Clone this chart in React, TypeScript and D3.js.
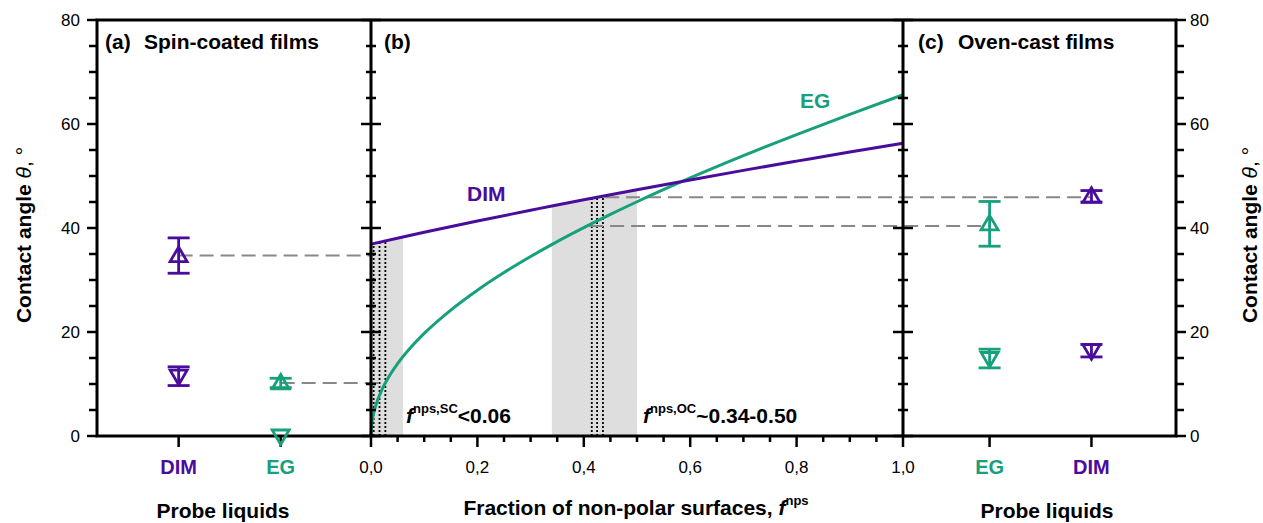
import React from 'react';
import * as d3 from 'd3';

const W = 1263;
const H = 523;
const PURPLE = '#4a0c9c';
const GREEN = '#16a07b';
const FONT = '"Liberation Sans", Arial, sans-serif';

// ---- data ----
const dimCurveF = [0, 0.06, 0.1, 0.2, 0.3, 0.34, 0.4, 0.5, 0.6, 0.7, 0.8, 0.9, 1.0];
const dimCurveTheta = [36.9, 38.28, 39.18, 41.35, 43.41, 44.24, 45.43, 47.37, 49.25, 51.08, 52.86, 54.62, 56.3];
const egCurveF = [0, 0.001, 0.0025, 0.005, 0.01, 0.02, 0.03, 0.05, 0.075, 0.1, 0.15, 0.2, 0.25, 0.3, 0.35, 0.4, 0.45, 0.5, 0.6, 0.7, 0.8, 0.9, 1.0];
const egCurveTheta = [0, 1.96, 3.1, 4.39, 6.21, 8.78, 10.77, 13.92, 17.06, 19.73, 24.22, 28.04, 31.43, 34.52, 37.39, 40.07, 42.62, 45.05, 49.62, 53.91, 57.97, 61.86, 65.62];

const spinLiquids = ['DIM', 'EG'];
const spinColors = [PURPLE, GREEN];
const spinAdv = [34.7, 10.2];
const spinAdvErr = [3.4, 0.9];
const spinRec = [11.5, 0];
const spinRecErr = [1.8, 0];

const ovenLiquids = ['EG', 'DIM'];
const ovenColors = [GREEN, PURPLE];
const ovenAdv = [40.8, 46.1];
const ovenAdvErr = [4.3, 1.1];
const ovenRec = [14.9, 16.4];
const ovenRecErr = [1.8, 1.2];

const bandStart = [0, 0.34];
const bandEnd = [0.06, 0.5];
const dottedF = [0.005, 0.016, 0.027, 0.415, 0.425, 0.436];

// dashed connectors
const spinLinkTheta = [34.7, 10.2];
const spinLinkF = [0, 0.02];
const ovenLinkTheta = [40.4, 45.9];
const ovenLinkF = [0.41, 0.44];

const yTickLabels = [0, 20, 40, 60, 80];
const fTickValues = [0, 0.2, 0.4, 0.6, 0.8, 1.0];
const fTickLabels = ['0,0', '0,2', '0,4', '0,6', '0,8', '1,0'];

// ---- layout ----
const X0 = 97;
const XA = 371;
const XB = 903;
const X1 = 1176;
const YT = 20;
const YB = 436;

const y = d3.scaleLinear().domain([0, 80]).range([YB, YT]);
const xf = d3.scaleLinear().domain([0, 1]).range([XA, XB]);
const xLeft = d3.scaleLinear().domain([0.2, 2.885]).range([X0, XA]);
const xRight = d3.scaleLinear().domain([0.15, 2.83]).range([XB, X1]);

const dimPts: [number, number][] = dimCurveF.map((f, i) => [f, dimCurveTheta[i]]);
const egPts: [number, number][] = egCurveF.map((f, i) => [f, egCurveTheta[i]]);

const line = d3
  .line<[number, number]>()
  .x((d) => xf(d[0]))
  .y((d) => y(d[1]))
  .curve(d3.curveMonotoneX);

const areaUnder = d3
  .area<[number, number]>()
  .x((d) => xf(d[0]))
  .y0(y(0))
  .y1((d) => y(d[1]))
  .curve(d3.curveMonotoneX);

const upTri = 'M0,-8.5 L8.5,6 L-8.5,6 Z';
const downTri = 'M0,8.5 L8.5,-6 L-8.5,-6 Z';

function Marker({ cx, v, err, up, color }: { cx: number; v: number; err: number; up: boolean; color: string }) {
  const cy = y(v);
  return (
    <g stroke={color} strokeWidth={2.8} fill="none">
      {err > 0 && (
        <>
          <line x1={cx} x2={cx} y1={y(v - err)} y2={y(v + err)} />
          <line x1={cx - 11} x2={cx + 11} y1={y(v - err)} y2={y(v - err)} />
          <line x1={cx - 11} x2={cx + 11} y1={y(v + err)} y2={y(v + err)} />
        </>
      )}
      <path d={up ? upTri : downTri} transform={`translate(${cx},${cy})`} strokeLinejoin="miter" />
    </g>
  );
}

export default function App() {
  const minor = d3.range(0, 81, 5);
  const fMinor = d3.range(0, 1.0001, 0.05);
  return (
    <svg
      width={W}
      height={H}
      style={{ position: 'absolute', left: 0, top: 0, background: '#fff' }}
      fontFamily={FONT}
    >
      <defs>
        <clipPath id="underDim">
          <path d={areaUnder(dimPts) || ''} />
        </clipPath>
      </defs>

      {/* shaded bands */}
      <g clipPath="url(#underDim)">
        {bandStart.map((s, i) => (
          <rect key={i} x={xf(s)} y={y(80)} width={xf(bandEnd[i]) - xf(s)} height={y(0) - y(80)} fill="#dedede" />
        ))}
        {dottedF.map((f, i) => (
          <line key={i} x1={xf(f)} x2={xf(f)} y1={y(0)} y2={y(80)} stroke="#000" strokeWidth={1.8} strokeDasharray="2,2" />
        ))}
      </g>

      {/* dashed connectors */}
      <g stroke="#888" strokeWidth={2} strokeDasharray="14,7" fill="none">
        {spinLinkTheta.map((t, i) => (
          <line key={'s' + i} x1={xLeft(i + 1)} x2={xf(spinLinkF[i])} y1={y(t)} y2={y(t)} />
        ))}
        {ovenLinkTheta.map((t, i) => (
          <line key={'o' + i} x1={xf(ovenLinkF[i])} x2={xRight(i + 1)} y1={y(t)} y2={y(t)} />
        ))}
      </g>

      {/* curves */}
      <path d={line(egPts) || ''} stroke={GREEN} strokeWidth={3} fill="none" />
      <path d={line(dimPts) || ''} stroke={PURPLE} strokeWidth={3} fill="none" />

      {/* frame */}
      <g stroke="#000" strokeWidth={3} fill="none">
        <rect x={X0} y={YT} width={X1 - X0} height={YB - YT} />
        <line x1={XA} x2={XA} y1={YT} y2={YB} />
        <line x1={XB} x2={XB} y1={YT} y2={YB} />
      </g>

      {/* y ticks */}
      <g stroke="#000" strokeWidth={2.5}>
        {minor.map((t) => {
          const major = t % 20 === 0;
          const yy = y(t);
          return (
            <g key={t}>
              <line x1={X0 - (major ? 10 : 8)} x2={X0} y1={yy} y2={yy} />
              <line x1={X1} x2={X1 + (major ? 10 : 8)} y1={yy} y2={yy} />
              <line x1={XA - (major ? 10 : 5)} x2={XA + (major ? 10 : 5)} y1={yy} y2={yy} />
              <line x1={XB - (major ? 10 : 5)} x2={XB + (major ? 10 : 5)} y1={yy} y2={yy} />
            </g>
          );
        })}
        {/* x ticks middle */}
        {fMinor.map((f, i) => {
          const major = i % 4 === 0;
          return <line key={i} x1={xf(f)} x2={xf(f)} y1={YB} y2={YB + (major ? 11 : 6)} />;
        })}
        {spinLiquids.map((_, i) => (
          <line key={'sl' + i} x1={xLeft(i + 1)} x2={xLeft(i + 1)} y1={YB} y2={YB + 11} />
        ))}
        {ovenLiquids.map((_, i) => (
          <line key={'ol' + i} x1={xRight(i + 1)} x2={xRight(i + 1)} y1={YB} y2={YB + 11} />
        ))}
      </g>

      {/* y tick labels */}
      <g fontSize={17} fill="#000">
        {yTickLabels.map((t) => (
          <g key={t}>
            <text x={X0 - 17} y={y(t)} dy="0.35em" textAnchor="end">{t}</text>
            <text x={X1 + 14} y={y(t)} dy="0.35em" textAnchor="start">{t}</text>
          </g>
        ))}
        {fTickValues.map((f, i) => (
          <text key={i} x={xf(f)} y={473} textAnchor="middle">{fTickLabels[i]}</text>
        ))}
      </g>

      {/* category labels */}
      <g fontSize={20} fontWeight="bold">
        {spinLiquids.map((l, i) => (
          <text key={l} x={xLeft(i + 1)} y={474} textAnchor="middle" fill={spinColors[i]}>{l}</text>
        ))}
        {ovenLiquids.map((l, i) => (
          <text key={l} x={xRight(i + 1)} y={474} textAnchor="middle" fill={ovenColors[i]}>{l}</text>
        ))}
      </g>

      {/* markers */}
      {spinLiquids.map((l, i) => (
        <g key={'sm' + l}>
          <Marker cx={xLeft(i + 1)} v={spinAdv[i]} err={spinAdvErr[i]} up={true} color={spinColors[i]} />
          <Marker cx={xLeft(i + 1)} v={spinRec[i]} err={spinRecErr[i]} up={false} color={spinColors[i]} />
        </g>
      ))}
      {ovenLiquids.map((l, i) => (
        <g key={'om' + l}>
          <Marker cx={xRight(i + 1)} v={ovenAdv[i]} err={ovenAdvErr[i]} up={true} color={ovenColors[i]} />
          <Marker cx={xRight(i + 1)} v={ovenRec[i]} err={ovenRecErr[i]} up={false} color={ovenColors[i]} />
        </g>
      ))}

      {/* panel titles */}
      <g fontSize={21} fontWeight="bold" fill="#000">
        <text x={105} y={49}>(a)</text>
        <text x={144} y={49}>Spin-coated films</text>
        <text x={384} y={49}>(b)</text>
        <text x={918} y={49}>(c)</text>
        <text x={958} y={49}>Oven-cast films</text>
      </g>

      {/* in-plot labels */}
      <text x={467} y={201} fontSize={21} fontWeight="bold" fill={PURPLE}>DIM</text>
      <text x={800} y={108} fontSize={21} fontWeight="bold" fill={GREEN}>EG</text>

      <text x={406} y={423} fontSize={21} fontWeight="bold" fill="#000">
        <tspan fontStyle="italic">f</tspan>
        <tspan fontSize={13} dy={-10}>nps,SC</tspan>
        <tspan dy={10}>{'<0.06'}</tspan>
      </text>
      <text x={643} y={423} fontSize={21} fontWeight="bold" fill="#000">
        <tspan fontStyle="italic">f</tspan>
        <tspan fontSize={13} dy={-10}>nps,OC</tspan>
        <tspan dy={10}>~0.34-0.50</tspan>
      </text>

      {/* axis titles */}
      <g fontSize={21} fontWeight="bold" fill="#000">
        <text x={223} y={518} textAnchor="middle">Probe liquids</text>
        <text x={1047} y={518} textAnchor="middle">Probe liquids</text>
        <text x={636} y={515} textAnchor="middle">
          Fraction of non-polar surfaces,{' '}
          <tspan fontStyle="italic">f</tspan>
          <tspan fontSize={13} dy={-10}>nps</tspan>
        </text>
      </g>
      <text transform="translate(31,235) rotate(-90)" fontSize={21} textAnchor="middle" fill="#000">
        <tspan fontWeight="bold">Contact angle </tspan>
        <tspan fontStyle="italic">θ</tspan>
        <tspan>, °</tspan>
      </text>
      <text transform="translate(1257,235) rotate(-90)" fontSize={21} textAnchor="middle" fill="#000">
        <tspan fontWeight="bold">Contact angle </tspan>
        <tspan fontStyle="italic">θ</tspan>
        <tspan>, °</tspan>
      </text>
    </svg>
  );
}
